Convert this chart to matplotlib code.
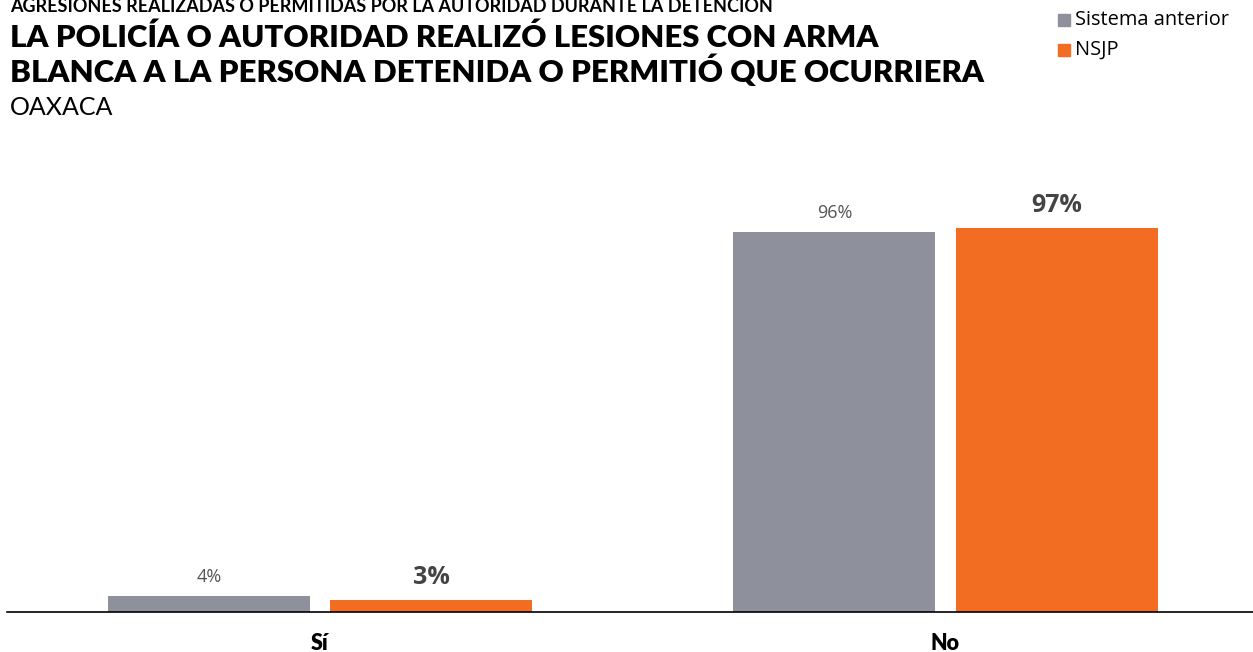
import numpy as np
import matplotlib
matplotlib.use('Agg')
import matplotlib.pyplot as plt

categories = ['Sí', 'No']
anterior = [4, 96]
nsjp = [3, 97]
series_names = ['Sistema anterior', 'NSJP']

gray = '#8e919c'
orange = '#f26c22'

fig = plt.figure(figsize=(12.53, 6.52), dpi=100)
ax = fig.add_axes([7.25/1253, 40/652, 1251/1253, 396/652])

x = np.arange(len(categories))
w = 0.323
off = 0.1775
b1 = ax.bar(x - off, anterior, w, color=gray)
b2 = ax.bar(x + off, nsjp, w, color=orange)

for rect, v in zip(b1, anterior):
    ax.text(rect.get_x() + rect.get_width()/2, v + 2.6, f'{v}%', ha='center', va='bottom',
            fontsize=13, color='#555555', family='Open Sans')
for rect, v in zip(b2, nsjp):
    ax.text(rect.get_x() + rect.get_width()/2, v + 2.6, f'{v}%', ha='center', va='bottom',
            fontsize=18, color='#444444', family='Open Sans', fontweight='bold')

ax.set_xlim(-0.5, 1.5)
ax.set_ylim(0, 100)
ax.set_yticks([])
ax.set_xticks(x)
ax.set_xticklabels(categories, fontsize=15.5, fontweight='heavy', family='Lato')
ax.tick_params(axis='x', length=0, pad=15)
for s in ['top', 'right', 'left']:
    ax.spines[s].set_visible(False)
ax.spines['bottom'].set_linewidth(1.2)

fig.text(10/1253, 1 - 12/652, 'AGRESIONES REALIZADAS O PERMITIDAS POR LA AUTORIDAD DURANTE LA DETENCIÓN',
         fontsize=13, fontweight='bold', family='Lato', va='baseline')
fig.text(10/1253, 1 - 47/652, 'LA POLICÍA O AUTORIDAD REALIZÓ LESIONES CON ARMA',
         fontsize=22.4, fontweight='heavy', family='Lato', va='baseline')
fig.text(10/1253, 1 - 82/652, 'BLANCA A LA PERSONA DETENIDA O PERMITIÓ QUE OCURRIERA',
         fontsize=22.4, fontweight='heavy', family='Lato', va='baseline')
fig.text(10/1253, 1 - 115/652, 'OAXACA', fontsize=18, family='Lato', va='baseline')

# legend
for i, (name, c) in enumerate(zip(series_names, [gray, orange])):
    yc = 1 - (20 + 30*i)/652
    fig.patches.append(plt.Rectangle((1058/1253, yc - 6/652), 12/1253, 12/652,
                                     transform=fig.transFigure, color=c))
    fig.text(1075/1253, yc, name, fontsize=14.4, family='Open Sans', va='center')

fig.savefig('out.png', dpi=100)
